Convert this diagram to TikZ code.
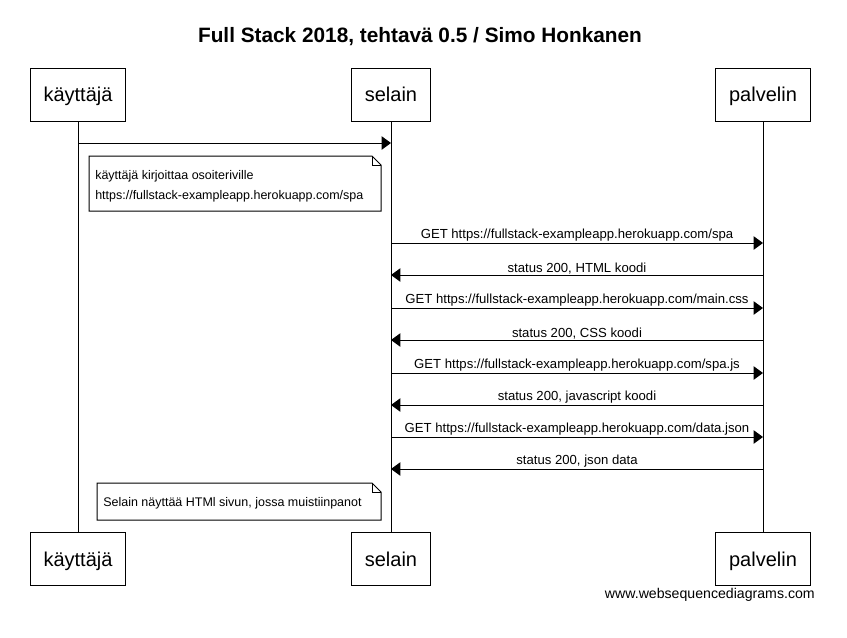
\documentclass[tikz,border=0pt]{standalone}
\usepackage{fontspec}
\setmainfont{Liberation Sans}
\usetikzlibrary{arrows.meta}

\tikzset{
  actor/.style={draw, line width=0.75pt, minimum height=39.75pt, inner xsep=10pt, text height=14pt, text depth=3.5pt, font=\fontsize{15}{18}\selectfont},
  msg/.style={line width=0.75pt, -{Triangle[length=7pt,width=10pt]}},
  msglabel/.style={above, inner sep=0.6pt, font=\fontsize{9.85}{11}\selectfont},
  notetext/.style={anchor=west, inner sep=0pt, align=left, font=\fontsize{9.37}{15}\selectfont}
}

\begin{document}
\begin{tikzpicture}[x=0.75pt,y=0.75pt,yscale=-1,xscale=1]
    \useasboundingbox (0,0) rectangle (847,637);

    % Title
    \node (title) at (420,37) {\fontsize{15.6}{18}\selectfont\bfseries Full Stack 2018, tehtavä 0.5 / Simo Honkanen};

    % Actors top
    \node [actor] (kayttaja) at (78,94.5) {käyttäjä};
    \node [actor] (selain) at (391,94.5) {selain};
    \node [actor] (palvelin) at (763,94.5) {palvelin};
    % Actors bottom
    \node [actor] (kayttajaB) at (78,559) {käyttäjä};
    \node [actor] (selainB) at (391,559) {selain};
    \node [actor] (palvelinB) at (763,559) {palvelin};

    % Lifelines
    \draw [line width=0.75pt] (kayttaja) -- (kayttajaB);
    \draw [line width=0.75pt] (selain) -- (selainB);
    \draw [line width=0.75pt] (palvelin) -- (palvelinB);

    % Points on the lifelines for the messages
    \foreach \y [count=\i] in {143,243,275,308,340,373,405,437,469} {
      \coordinate (k\i) at (78,\y);
      \coordinate (s\i) at (391,\y);
      \coordinate (p\i) at (763,\y);
    }

    % Messages
    \draw [msg] (k1) -- (s1);
    \draw [msg] (s2) -- node [msglabel] {GET https://fullstack-exampleapp.herokuapp.com/spa} (p2);
    \draw [msg] (p3) -- node [msglabel] {status 200, HTML koodi} (s3);
    \draw [msg] (s4) -- node [msglabel] {GET https://fullstack-exampleapp.herokuapp.com/main.css} (p4);
    \draw [msg] (p5) -- node [msglabel] {status 200, CSS koodi} (s5);
    \draw [msg] (s6) -- node [msglabel] {GET https://fullstack-exampleapp.herokuapp.com/spa.js} (p6);
    \draw [msg] (p7) -- node [msglabel] {status 200, javascript koodi} (s7);
    \draw [msg] (s8) -- node [msglabel] {GET https://fullstack-exampleapp.herokuapp.com/data.json} (p8);
    \draw [msg] (p9) -- node [msglabel] {status 200, json data} (s9);

    % Note 1
    \draw [line width=0.75pt] (89,156) -- (372,156) -- (381,165) -- (381,211) -- (89,211) -- cycle;
    \draw [line width=0.5pt] (372,156) -- (372,165) -- (381,165);
    \node [notetext] (note1) at (95,186) {käyttäjä kirjoittaa osoiteriville\\https://fullstack-exampleapp.herokuapp.com/spa};

    % Note 2
    \draw [line width=0.75pt] (97,483) -- (372,483) -- (381,492) -- (381,520) -- (97,520) -- cycle;
    \draw [line width=0.5pt] (372,483) -- (372,492) -- (381,492);
    \node [notetext] (note2) at (103,503) {Selain näyttää HTMl sivun, jossa muistiinpanot};

    % Footer
    \node [anchor=east, inner sep=0pt, font=\fontsize{10.6}{12}\selectfont] (footer) at (815,595) {www.websequencediagrams.com};

\end{tikzpicture}
\end{document}
